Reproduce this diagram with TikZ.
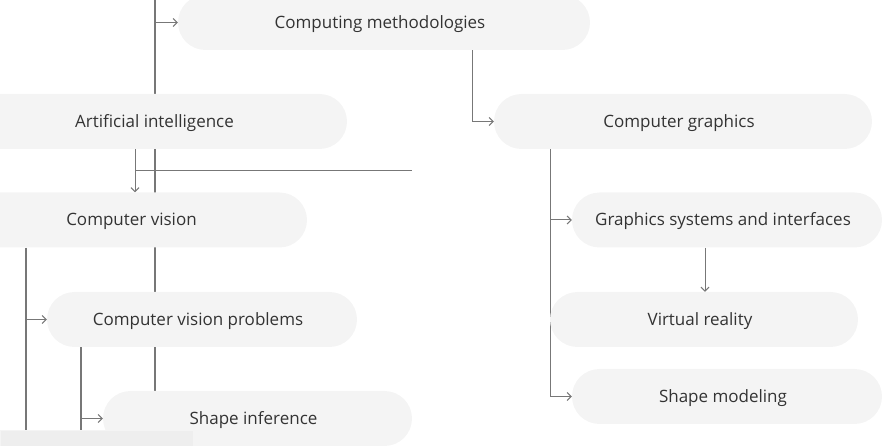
\documentclass[tikz,border=0pt]{standalone}
\usepackage{fontspec}
\setmainfont{Open Sans}
\usetikzlibrary{arrows.meta,backgrounds}
\definecolor{pillgray}{HTML}{F4F4F4}
\definecolor{linegray}{HTML}{777777}
\definecolor{textgray}{HTML}{333333}
\definecolor{bargray}{HTML}{EEEEEE}
\tikzset{
  pill/.style={fill=pillgray,rounded corners=27.5pt,minimum height=55pt,text=textgray,
    inner sep=0pt,text height=14pt,text depth=2pt},
  link/.style={draw=linegray,line width=1pt},
  trunk/.style={draw=linegray,line width=1.8pt},
  tip/.style={-{Straight Barb[length=4pt,width=8pt]}}
}
\begin{document}
\begin{tikzpicture}[x=1pt,y=-1pt]\fontsize{17}{20}\selectfont
\useasboundingbox (0,0) rectangle (895,446);
\foreach \n/\x/\y/\w/\t in {cm/384/22.5/412/Computing methodologies,
  ai/158.5/121.5/377/Artificial intelligence,
  cv/135.5/220/343/Computer vision,
  cvp/202/319.5/310/Computer vision problems,
  si/257.5/418.5/309/Shape inference,
  cg/683/121.5/378/Computer graphics,
  gsi/727/220/310/Graphics systems and interfaces,
  vr/704/319.5/308/Virtual reality,
  sm/727/396.5/310/Shape modeling}
  \node[pill,minimum width=\w] (\n) at (\x,\y) {\hspace*{-8pt}\t};
\coordinate (top) at (155,0);
\coordinate (bot) at (155,446);
\coordinate (aiend) at (412,171);
\coordinate (cvend) at (26,446);
\coordinate (cvpend) at (81,446);
\begin{pgfonlayer}{background}
\draw[trunk] (top) -- (bot);
\draw[link,tip] (top |- cm.west) -- (cm.west);
\draw[link,tip] ([xshift=88]cm.south) |- (cg.west);
\draw[link,tip] ([xshift=-23.5]ai.south) -- ([xshift=-23.5]ai.south |- cv.north);
\draw[link] ([xshift=-23.5]ai.south |- aiend) -- (aiend);
\draw[trunk] ([xshift=-109.5]cv.south) -- (cvend);
\draw[link,tip] (cvend |- cvp.west) -- (cvp.west);
\draw[trunk] ([xshift=-121]cvp.south) -- (cvpend);
\draw[link,tip] (cvpend |- si.west) -- (si.west);
\draw[link,tip] ([xshift=-133]cg.south) |- (sm.west);
\draw[link,tip] ([xshift=-133]cg.south |- gsi.west) -- (gsi.west);
\draw[link,tip] ([xshift=-22]gsi.south) -- ([xshift=-22]gsi.south |- vr.north);
\end{pgfonlayer}
\draw[fill=bargray,draw=pillgray] (0,430) rectangle (193,446);
\end{tikzpicture}
\end{document}
